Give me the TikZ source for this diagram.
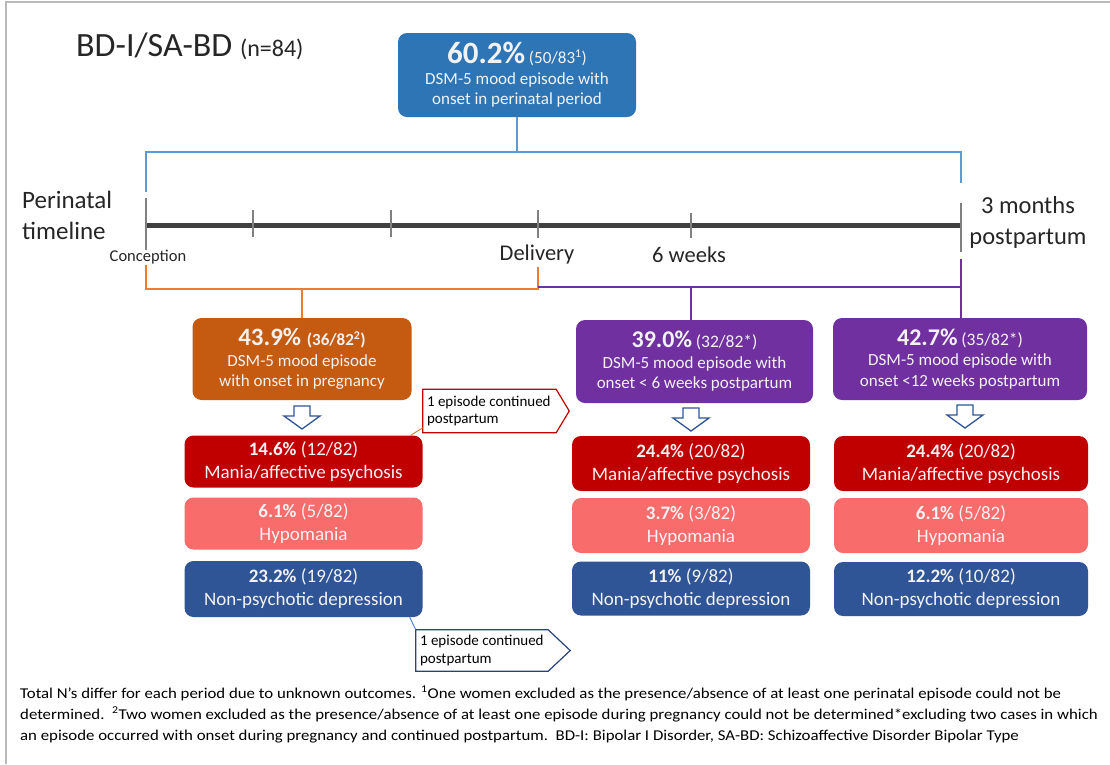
\documentclass[tikz,border=0pt]{standalone}
\usepackage{fontspec}
\setmainfont{Carlito}
\newfontfamily\footfont{Carlito}[FakeStretch=1.12]
\usetikzlibrary{calc}
\definecolor{topblue}{HTML}{2E75B6}
\definecolor{orbox}{HTML}{C55A11}
\definecolor{purbox}{HTML}{7030A0}
\definecolor{redbox}{HTML}{C00000}
\definecolor{salbox}{HTML}{F86C6C}
\definecolor{depbox}{HTML}{2F5597}
\definecolor{brblue}{HTML}{5B9BD5}
\definecolor{brorange}{HTML}{ED7D31}
\definecolor{tline}{HTML}{404040}
\definecolor{tick}{HTML}{808080}
\definecolor{labtxt}{HTML}{262626}
\newcommand\fsz[2]{\fontsize{#1}{#2}\selectfont}
\begin{document}
\begin{tikzpicture}[x=1pt,y=-1pt,
  box/.style={rounded corners=9pt, text=white!95!black, align=center, inner sep=0pt},
  headfont/.style={font=\fsz{17}{20.5}},
  rowfont/.style={font=\fsz{19}{23}},
  bracket/.style={line width=1.6pt},
  downarrow/.style={draw=depbox, fill=white, line width=1.3pt, line join=miter},
  callout/.style={line width=1.2pt, fill=white, line join=miter},
  callfont/.style={font=\fsz{15}{17.5}},
  lab/.style={text=labtxt, inner sep=0pt}]
\useasboundingbox (0,0) rectangle (1110,764);
\fill[white] (0,0) rectangle (1110,764);
% frame
\draw[gray!55, line width=1.5pt] (6,764) -- (6,2) -- (1110,2);

% title
\node[lab, anchor=base west, font=\fsz{34}{38}] (title) at (76,56) {BD-I/SA-BD {\fsz{24}{26}(n=84)}};

% top box
\node[box, fill=topblue, minimum width=238, minimum height=84, headfont] (top) at (517,75)
  {{\fsz{31}{30}\bfseries 60.2\%} {\fsz{17}{20}(50/83\textsuperscript{1})}\\
   DSM-5 mood episode with\\ onset in perinatal period};

% blue bracket
\coordinate (bL) at (146,152);
\coordinate (bR) at (961,152);
\draw[bracket, brblue] ($(bL)+(0,40)$) -- (bL) -- (bR) -- ($(bR)+(0,31)$);
\draw[bracket, brblue] (top.south) -- (top.south |- bL);

% timeline
\coordinate (t0) at (146,225);
\coordinate (t1) at (961,225);
\draw[tline, line width=5pt] (t0) -- (t1);
\draw[tick, line width=1.2pt] (146,198) -- (146,250);
\draw[tick, line width=1.2pt] (253,210) -- (253,237);
\draw[tick, line width=1.2pt] (391,210) -- (391,237);
\draw[tick, line width=1.2pt] (538,210) -- (538,238);
\draw[tick, line width=1.2pt] (691,213) -- (691,238);
\draw[tick, line width=1.2pt] (961,203) -- (961,252);

\node[lab, align=left, anchor=west, font=\fsz{25}{31}] (peri) at (22,215) {Perinatal\\timeline};
\node[lab, font=\fsz{16.5}{18}] (conc) at (148,257) {Conception};
\node[lab, font=\fsz{22.5}{24}] (deliv) at (537,254) {Delivery};
\node[lab, font=\fsz{22.5}{24}] (wk6) at (689,255) {6 weeks};
\node[lab, align=center, font=\fsz{24.5}{31}] (m3) at (1028,222) {3 months\\postpartum};

% orange bracket
\coordinate (oL) at (146,289);
\coordinate (oR) at (538,289);
\draw[bracket, brorange] (146,265) -- (oL) -- (oR) -- (538,267);

% purple bracket
\coordinate (pL) at (538,287);
\coordinate (pR) at (961,287);
\draw[bracket, purbox] (pL) -- (pR);
\draw[bracket, purbox] (961,259) -- (961,319);

% row 1 boxes
\node[box, fill=orbox, minimum width=219, minimum height=82, headfont] (preg) at (302,359)
  {{\fsz{25}{26}\bfseries 43.9\% {\fsz{17}{20}(36/82\textsuperscript{2})}}\\
   DSM-5 mood episode\\ with onset in pregnancy};
\node[box, fill=purbox, minimum width=237, minimum height=83, headfont] (pp6) at (694.5,361.5)
  {{\fsz{24}{25}\bfseries 39.0\%} {\fsz{17.5}{20}(32/82*)}\\
   DSM-5 mood episode with\\ onset < 6 weeks postpartum};
\node[box, fill=purbox, minimum width=254, minimum height=82, headfont] (pp12) at (960,359)
  {{\fsz{24}{25}\bfseries 42.7\%} {\fsz{17.5}{20}(35/82*)}\\
   DSM-5 mood episode with\\ onset <12 weeks postpartum};

\draw[bracket, brorange] (preg.north |- oL) -- (preg.north);
\draw[bracket, purbox] (pp6.north -| 691,0) -- (691,287);

% down arrows
\foreach \ax/\ay [count=\i] in {302/406, 691/408, 965/405}{
  \draw[downarrow] (\ax-8,\ay) -- (\ax+8,\ay) -- (\ax+8,\ay+10) -- (\ax+18,\ay+10)
     -- (\ax,\ay+23) -- (\ax-18,\ay+10) -- (\ax-8,\ay+10) -- cycle;
}

% row 2-4 boxes, left column
\node[box, fill=redbox, minimum width=238, minimum height=52, rowfont] (man1) at (303.5,461.5)
  {\textbf{14.6\%} (12/82)\\ Mania/affective psychosis};
\node[box, fill=salbox, minimum width=238, minimum height=52, rowfont] (hyp1) at (303.5,523.5)
  {\textbf{6.1\%} (5/82)\\ Hypomania};
\node[box, fill=depbox, minimum width=238, minimum height=56, rowfont] (dep1) at (303.5,589)
  {\textbf{23.2\%} (19/82)\\ Non-psychotic depression};

% middle column
\node[box, fill=redbox, minimum width=238, minimum height=55, rowfont] (man2) at (691,463.5)
  {\textbf{24.4\%} (20/82)\\ Mania/affective psychosis};
\node[box, fill=salbox, minimum width=238, minimum height=55, rowfont] (hyp2) at (691,525.5)
  {\textbf{3.7\%} (3/82)\\ Hypomania};
\node[box, fill=depbox, minimum width=238, minimum height=54, rowfont] (dep2) at (691,588.5)
  {\textbf{11\%} (9/82)\\ Non-psychotic depression};

% right column
\node[box, fill=redbox, minimum width=254, minimum height=55, rowfont] (man3) at (961,463.5)
  {\textbf{24.4\%} (20/82)\\ Mania/affective psychosis};
\node[box, fill=salbox, minimum width=254, minimum height=55, rowfont] (hyp3) at (961,525.5)
  {\textbf{6.1\%} (5/82)\\ Hypomania};
\node[box, fill=depbox, minimum width=254, minimum height=54, rowfont] (dep3) at (961,589)
  {\textbf{12.2\%} (10/82)\\ Non-psychotic depression};

% callout 1
\node[inner sep=0pt, minimum width=133, minimum height=43] (c1) at (489.5,411) {};
\draw[callout, draw=redbox] (c1.north west) -- (c1.north east) -- ($(c1.east)+(13,0)$)
   -- (c1.south east) -- (c1.south west) -- cycle;
\node[lab, text=black, align=left, anchor=west, callfont] (c1t) at ($(c1.west)+(4,0)$)
   {1 episode continued\\postpartum};
\draw[line width=0.9pt, draw=brown!80!orange] (man1.north east) ++(-12,0) -- ($(c1.south west)+(0,-5)$);

% callout 2
\node[inner sep=0pt, minimum width=132, minimum height=41] (c2) at (482,650.5) {};
\draw[callout, draw=depbox!80!black] (c2.north west) -- (c2.north east) -- ($(c2.east)+(22,0)$)
   -- (c2.south east) -- (c2.south west) -- cycle;
\node[lab, text=black, align=left, anchor=west, callfont] (c2t) at ($(c2.west)+(4,0)$)
   {1 episode continued\\postpartum};
\draw[line width=0.9pt, draw=brblue!80!blue] (dep1.south east) ++(-13,0) -- (c2.north west);

% footnote
\node[lab, text=black, align=left, anchor=north west, font=\footfont\fsz{15}{21}] (foot) at (20,686)
  {Total N’s differ for each period due to unknown outcomes. \textsuperscript{1}One women excluded as the presence/absence of at least one perinatal episode could not be\\
   determined.\ \ \textsuperscript{2}Two women excluded as the presence/absence of at least one episode during pregnancy could not be determined*excluding two cases in which\\
   an episode occurred with onset during pregnancy and continued postpartum.\ \ BD-I: Bipolar I Disorder, SA-BD: Schizoaffective Disorder Bipolar Type};
\end{tikzpicture}
\end{document}
